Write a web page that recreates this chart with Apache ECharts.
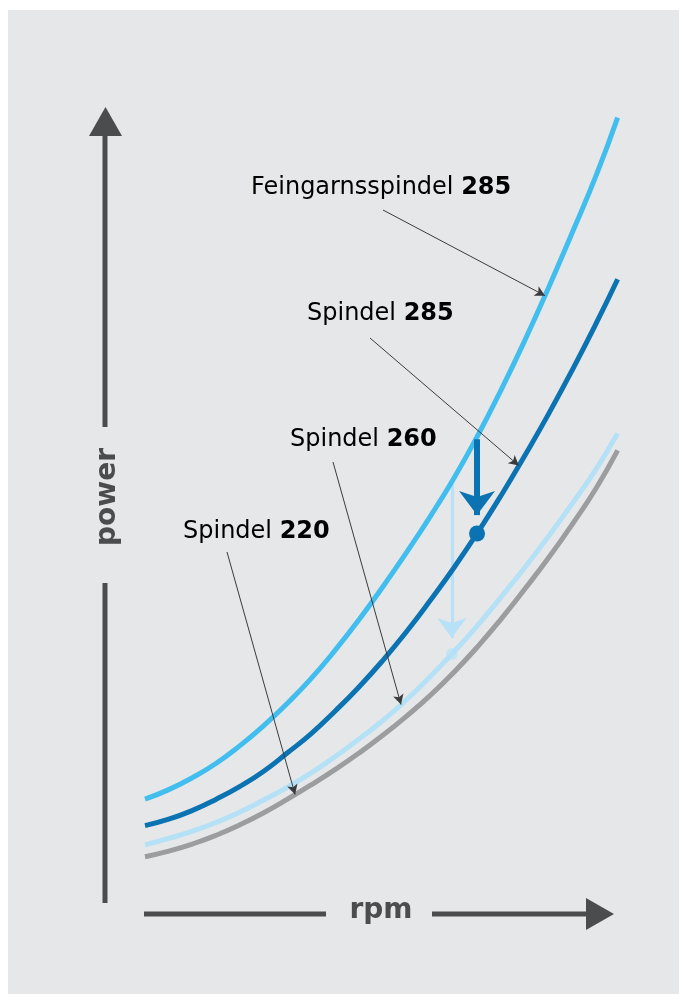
<!DOCTYPE html>
<html>
<head>
<meta charset="utf-8">
<script src="https://cdn.jsdelivr.net/npm/echarts@6/dist/echarts.min.js"></script>
<style>
html, body { margin: 0; padding: 0; background: #fff; }
#main { width: 681px; height: 994px; }
</style>
</head>
<body>
<div id="main"></div>
<script>
// rpm (relative, 0..100) and power (relative, 0..100)
var rpm = [0, 5, 10, 15, 20, 25, 30, 35, 40, 45, 50, 55, 60, 65, 70, 75, 80, 85, 90, 95, 99.5];
var feinPower = [12.6, 13.8, 15.3, 17.1, 19.3, 21.8, 24.6, 27.7, 31.2, 35.0, 39.1, 43.4, 47.9, 52.7, 58.0, 63.8, 70.0, 76.6, 83.5, 90.6, 97.8];
var sp285Power = [9.3, 10.1, 11.2, 12.6, 14.2, 16.1, 18.4, 20.8, 23.6, 26.6, 29.9, 33.5, 37.4, 41.5, 45.9, 50.6, 55.6, 60.8, 66.3, 72.1, 77.6];
var sp260Power = [6.9, 7.7, 8.6, 9.7, 11.0, 12.5, 14.1, 15.9, 17.9, 20.1, 22.4, 25.0, 27.9, 31.0, 34.3, 37.9, 41.6, 45.5, 49.6, 53.9, 58.3];
var sp220Power = [5.4, 6.1, 7.0, 8.1, 9.4, 10.9, 12.6, 14.4, 16.3, 18.35, 20.55, 22.95, 25.55, 28.45, 31.65, 35.15, 38.9, 42.8, 47.0, 51.5, 56.2];

var labelNames = ['Feingarnsspindel', 'Spindel', 'Spindel', 'Spindel'];
var labelNums = ['285', '285', '260', '220'];
var tipRpm = [84.2, 78.7, 53.9, 31.6];   // where each leader arrow hits its curve
var dropRpm = [69.9, 64.6];              // the two vertical drop arrows

function valueAt(curve, x) {
    for (var i = 1; i < rpm.length; i++) {
        if (x <= rpm[i]) {
            var t = (x - rpm[i - 1]) / (rpm[i] - rpm[i - 1]);
            return curve[i - 1] + t * (curve[i] - curve[i - 1]);
        }
    }
    return curve[curve.length - 1];
}
function pairs(curve) {
    return rpm.map(function (x, i) { return [x, curve[i]]; });
}

var FONT = 'DejaVu Sans';
var AXIS_COLOR = '#4b4c4e';
var TEXT_COLOR = '#2f3032';

// label boxes (left x, middle y) and where the leader starts
var labelPos = [[251, 188], [307, 314], [290, 440], [183, 532]];
var leaderStart = [[383, 210], [370, 338], [333, 462], [227, 552]];
var curves = [feinPower, sp285Power, sp260Power, sp220Power];

function leader(i) {
    return [{ x: leaderStart[i][0], y: leaderStart[i][1] },
            { coord: [tipRpm[i], valueAt(curves[i], tipRpm[i])] }];
}
var leaderStyle = {
    silent: true,
    symbol: ['none', 'arrow'],
    symbolSize: [8, 10],
    label: { show: false },
    lineStyle: { color: '#3a3b3d', width: 1, type: 'solid' },
    emphasis: { disabled: true },
    animation: false
};

var graphics = [
    { type: 'rect', z: -10, shape: { x: 8, y: 10, width: 671, height: 984 }, style: { fill: '#e6e7e9' } },
    // y axis
    { type: 'line', shape: { x1: 105, y1: 903, x2: 105, y2: 583 }, style: { stroke: AXIS_COLOR, lineWidth: 5 } },
    { type: 'line', shape: { x1: 105, y1: 427, x2: 105, y2: 132 }, style: { stroke: AXIS_COLOR, lineWidth: 5 } },
    { type: 'polygon', shape: { points: [[105.5, 107], [89, 136], [122, 136]] }, style: { fill: AXIS_COLOR } },
    { type: 'text', x: 108, y: 497, rotation: Math.PI / 2,
      style: { text: 'power', fontFamily: FONT, fontWeight: 'bold', fontSize: 28, fill: AXIS_COLOR, align: 'center', verticalAlign: 'middle' } },
    // x axis
    { type: 'line', shape: { x1: 144, y1: 914, x2: 326, y2: 914 }, style: { stroke: AXIS_COLOR, lineWidth: 5 } },
    { type: 'line', shape: { x1: 432, y1: 914, x2: 590, y2: 914 }, style: { stroke: AXIS_COLOR, lineWidth: 5 } },
    { type: 'polygon', shape: { points: [[614, 914], [586, 898], [586, 930]] }, style: { fill: AXIS_COLOR } },
    { type: 'text', x: 381, y: 911,
      style: { text: 'rpm', fontFamily: FONT, fontWeight: 'bold', fontSize: 28, fill: AXIS_COLOR, align: 'center', verticalAlign: 'middle' } }
];
labelNames.forEach(function (name, i) {
    graphics.push({
        type: 'text', x: labelPos[i][0], y: labelPos[i][1],
        style: {
            text: '{a|' + name + ' }{b|' + labelNums[i] + '}',
            verticalAlign: 'middle',
            rich: {
                a: { fontFamily: FONT, fontSize: 24, color: TEXT_COLOR },
                b: { fontFamily: FONT, fontSize: 24, fontWeight: 'bold', color: '#262729' }
            }
        }
    });
});

var chart = echarts.init(document.getElementById('main'));
chart.setOption({
    backgroundColor: '#ffffff',
    animation: false,
    grid: { left: 145, right: 61, top: 100, bottom: 94 },
    xAxis: { type: 'value', min: 0, max: 100, show: false },
    yAxis: { type: 'value', min: 0, max: 100, show: false },
    graphic: graphics,
    series: [
        {
            name: 'Spindel 220', type: 'line', smooth: true, showSymbol: false,
            data: pairs(sp220Power),
            lineStyle: { color: '#9c9d9f', width: 5 },
            markLine: Object.assign({}, leaderStyle, { data: [leader(3)] })
        },
        {
            name: 'Spindel 260', type: 'line', smooth: true, showSymbol: false,
            data: pairs(sp260Power),
            lineStyle: { color: '#b4e1f6', width: 5 },
            markLine: Object.assign({}, leaderStyle, { data: [leader(2)] })
        },
        {
            name: 'Feingarnsspindel 285', type: 'line', smooth: true, showSymbol: false,
            data: pairs(feinPower),
            lineStyle: { color: '#41bdee', width: 5 },
            markLine: Object.assign({}, leaderStyle, { data: [leader(0)] })
        },
        {
            name: 'Spindel 285', type: 'line', smooth: true, showSymbol: false,
            data: pairs(sp285Power),
            lineStyle: { color: '#0b73b2', width: 5 },
            markLine: Object.assign({}, leaderStyle, { data: [leader(1)] })
        },
        {
            // faint drop arrow: Feingarns -> Spindel 260
            type: 'line', data: [], z: 1,
            markLine: {
                silent: true, z: 1, animation: false,
                symbol: ['none', 'arrow'], symbolSize: [22, 20],
                label: { show: false },
                lineStyle: { color: '#b6e1f6', width: 3, type: 'solid' },
                data: [[{ coord: [dropRpm[1], valueAt(feinPower, dropRpm[1])] },
                        { coord: [dropRpm[1], valueAt(sp260Power, dropRpm[1]) + 2.0] }]]
            }
        },
        {
            // strong drop arrow: Feingarns -> Spindel 285
            type: 'line', data: [],
            markLine: {
                silent: true, animation: false,
                symbol: ['none', 'arrow'], symbolSize: [27, 24],
                label: { show: false },
                lineStyle: { color: '#0b73b2', width: 6, type: 'solid' },
                data: [[{ coord: [dropRpm[0], valueAt(feinPower, dropRpm[0]) - 0.3] },
                        { coord: [dropRpm[0], valueAt(sp285Power, dropRpm[0]) + 2.3] }]]
            }
        },
        {
            type: 'scatter', silent: true, z: 1,
            data: [[dropRpm[1], valueAt(sp260Power, dropRpm[1])]],
            symbolSize: 12, itemStyle: { color: '#c3e6f7', opacity: 1 }
        },
        {
            type: 'scatter', silent: true,
            data: [[dropRpm[0], valueAt(sp285Power, dropRpm[0])]],
            symbolSize: 16, itemStyle: { color: '#0b73b2', opacity: 1 }
        }
    ]
});
</script>
</body>
</html>
